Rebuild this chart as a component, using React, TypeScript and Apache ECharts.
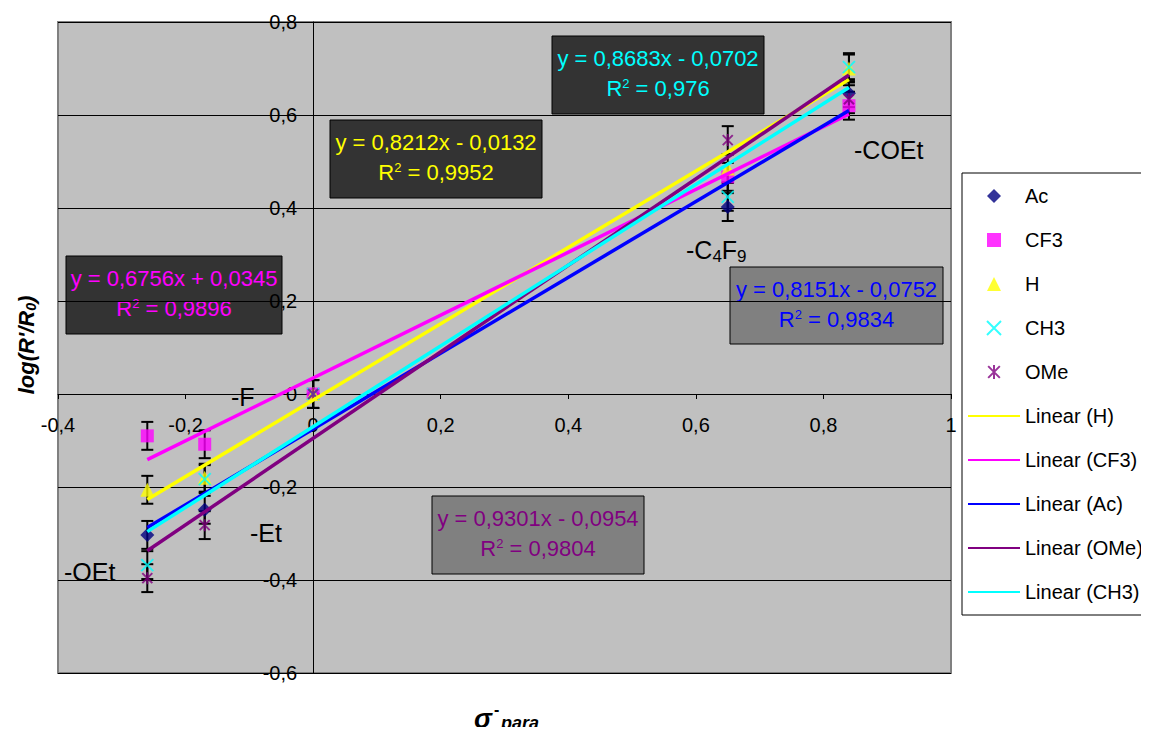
import React, { useEffect, useRef } from "react";
import * as echarts from "echarts";

const xValues = [-0.26, -0.17, 0, 0.65, 0.84];
const seriesNames = ["Ac", "CF3", "H", "CH3", "OMe"];
const acValues = [-0.303, -0.249, 0.0, 0.402, 0.647];
const cf3Values = [-0.09, -0.108, 0.0, 0.467, 0.62];
const hValues = [-0.206, -0.18, 0.0, 0.485, 0.7];
const ch3Values = [-0.368, -0.183, 0.0, 0.424, 0.703];
const omeValues = [-0.396, -0.282, 0.0, 0.546, 0.634];
const errorValues = [0.03, 0.03, 0.03, 0.03, 0.03];

const trendNames = ["Linear (H)", "Linear (CF3)", "Linear (Ac)", "Linear (OMe)", "Linear (CH3)"];
const trendSlopes = [0.8212, 0.6756, 0.8151, 0.9301, 0.8683];
const trendIntercepts = [-0.0132, 0.0345, -0.0752, -0.0954, -0.0702];
const trendR2 = ["0,9952", "0,9896", "0,9834", "0,9804", "0,976"];

const substituentLabels = ["-OEt", "-Et", "-F", "-COEt"];

const X_MIN = -0.4;
const X_MAX = 1;
const Y_MIN = -0.6;
const Y_MAX = 0.8;

const FONT = "'Liberation Sans', Arial, sans-serif";

const fmt = (v: number) => v.toFixed(4).replace(".", ",");
const tickFmt = (v: number) => {
  if (Math.abs(v) < 1e-9) return "0";
  if (Math.abs(v - Math.round(v)) < 1e-9) return String(Math.round(v));
  return v.toFixed(1).replace(".", ",");
};

export default function App() {
  const ref = useRef<HTMLDivElement>(null);
  useEffect(() => {
    if (!ref.current) return;
    const chart = echarts.init(ref.current, undefined, { renderer: "svg" });

    const W = 1149;
    const H = 735;
    const gLeft = 58;
    const gTop = 22;
    const gRight = W - 951;
    const gBottom = H - 673;
    const gW = W - gLeft - gRight;
    const gH = H - gTop - gBottom;
    const yAxisOffset = -((0 - X_MIN) / (X_MAX - X_MIN)) * gW;
    const xAxisOffset = -((0 - Y_MIN) / (Y_MAX - Y_MIN)) * gH;

    const pts = (ys: number[]) => xValues.map((x, i) => [x, ys[i]]);
    const xMin = Math.min(...xValues);
    const xMax = Math.max(...xValues);
    const trendLine = (k: number) => [
      [xMin, trendSlopes[k] * xMin + trendIntercepts[k]],
      [xMax, trendSlopes[k] * xMax + trendIntercepts[k]],
    ];

    const diamondPath = "path://M5,0L10,5L5,10L0,5Z";
    const squarePath = "path://M0,0L10,0L10,10L0,10Z";
    const trianglePath = "path://M5,0L10,10L0,10Z";
    const crossPath = "path://M0,0L10,10M10,0L0,10";
    const starPath = "path://M0,0L10,10M10,0L0,10M5,-1L5,11";

    const scatterDefs = [
      { name: "Ac", data: acValues, symbol: diamondPath, size: 14, color: "#000080" },
      { name: "CF3", data: cf3Values, symbol: squarePath, size: 13, color: "#FF00FF" },
      { name: "H", data: hValues, symbol: trianglePath, size: 14, color: "#FFFF00" },
      { name: "CH3", data: ch3Values, symbol: crossPath, size: 12, color: "#00FFFF", stroke: true },
      { name: "OMe", data: omeValues, symbol: starPath, size: 12, color: "#800080", stroke: true },
    ];
    const trendColors = ["#FFFF00", "#FF00FF", "#0000FF", "#800080", "#00FFFF"];

    const allY = [acValues, cf3Values, hValues, ch3Values, omeValues];
    const errData: number[][] = [];
    allY.forEach((ys) => ys.forEach((y, i) => errData.push([xValues[i], y, errorValues[i]])));

    const series: any[] = [
      {
        type: "custom",
        name: "errors",
        data: errData,
        encode: { x: 0, y: 1 },
        z: 2,
        renderItem: (params: any, api: any) => {
          const x = api.value(0);
          const y = api.value(1);
          const e = api.value(2);
          const t = api.coord([x, y + e]);
          const b = api.coord([x, y - e]);
          const hw = 6;
          const st = { stroke: "#000", lineWidth: 2 };
          return {
            type: "group",
            children: [
              { type: "line", shape: { x1: t[0], y1: t[1], x2: b[0], y2: b[1] }, style: st },
              { type: "line", shape: { x1: t[0] - hw, y1: t[1], x2: t[0] + hw, y2: t[1] }, style: st },
              { type: "line", shape: { x1: b[0] - hw, y1: b[1], x2: b[0] + hw, y2: b[1] }, style: st },
            ],
          };
        },
      },
    ];
    scatterDefs.forEach((d) => {
      series.push({
        type: "scatter",
        name: d.name,
        data: pts(d.data),
        symbol: d.symbol,
        symbolSize: d.size,
        symbolKeepAspect: true,
        z: 3,
        itemStyle: d.stroke
          ? { color: d.color, borderColor: d.color, borderWidth: 2 }
          : { color: d.color, borderWidth: 0 },
      });
    });
    trendNames.forEach((n, k) => {
      series.push({
        type: "line",
        name: n,
        data: trendLine(k),
        symbol: "none",
        showSymbol: false,
        z: 4,
        lineStyle: { color: trendColors[k], width: 3.5 },
        itemStyle: { color: trendColors[k] },
      });
    });

    // Annotation boxes (index into trend arrays: H, CF3, Ac, OMe, CH3)
    const boxes = [
      { k: 4, x: 552, y: 36, w: 212, h: 78, fill: "#333333" },
      { k: 0, x: 330, y: 120, w: 212, h: 78, fill: "#333333" },
      { k: 1, x: 66, y: 256, w: 216, h: 78, fill: "#333333" },
      { k: 2, x: 730, y: 267, w: 213, h: 77, fill: "#808080" },
      { k: 3, x: 432, y: 496, w: 212, h: 78, fill: "#808080" },
    ];
    const boxColors = ["#FFFF00", "#FF00FF", "#0000FF", "#800080", "#00FFFF"];
    const graphics: any[] = boxes.map((b) => {
      const s = trendSlopes[b.k];
      const c = trendIntercepts[b.k];
      const eq = `y = ${fmt(s)}x ${c < 0 ? "-" : "+"} ${fmt(Math.abs(c))}`;
      return {
        type: "group",
        x: b.x,
        y: b.y,
        z: 100,
        children: [
          {
            type: "rect",
            shape: { x: 0, y: 0, width: b.w, height: b.h },
            style: { fill: b.fill, stroke: "#000", lineWidth: 1 },
          },
          {
            type: "text",
            x: b.w / 2,
            y: 22,
            style: {
              text: eq,
              fill: boxColors[b.k],
              font: `22px ${FONT}`,
              align: "center",
              verticalAlign: "middle",
            },
          },
          {
            type: "text",
            x: b.w / 2,
            y: 52,
            style: {
              text: `R{sup|2} = ${trendR2[b.k]}`,
              fill: boxColors[b.k],
              font: `22px ${FONT}`,
              align: "center",
              verticalAlign: "middle",
              rich: {
                sup: { fontSize: 13, fill: boxColors[b.k], verticalAlign: "top", padding: [0, 0, 9, 0], fontFamily: FONT },
              },
            },
          },
        ],
      };
    });

    const subPos = [
      { t: substituentLabels[0], x: 64, y: 572 },
      { t: substituentLabels[1], x: 250, y: 533 },
      { t: substituentLabels[2], x: 231, y: 397 },
      { t: substituentLabels[3], x: 854, y: 150 },
    ];
    subPos.forEach((p) =>
      graphics.push({
        type: "text",
        x: p.x,
        y: p.y,
        z: 100,
        style: { text: p.t, fill: "#000", font: `25px ${FONT}`, verticalAlign: "middle" },
      })
    );
    graphics.push({
      type: "text",
      x: 686,
      y: 250,
      z: 100,
      style: {
        text: "-C{s|4}F{s|9}",
        fill: "#000",
        font: `25px ${FONT}`,
        verticalAlign: "middle",
        rich: { s: { fontSize: 17, fontFamily: FONT, padding: [12, 0, 0, 0], fill: "#000" } },
      },
    });

    // axis titles
    graphics.push({
      type: "text",
      x: 26,
      y: 345,
      rotation: Math.PI / 2,
      z: 100,
      style: {
        text: "log(R'/R{s|0})",
        fill: "#000",
        font: `italic bold 22px ${FONT}`,
        align: "center",
        verticalAlign: "middle",
        rich: { s: { fontSize: 14, fontStyle: "italic", fontWeight: "bold", fontFamily: FONT, padding: [10, 0, 0, 0], fill: "#000" } },
      },
    });
    graphics.push({
      type: "text",
      x: 474,
      y: 719,
      z: 100,
      style: { text: "σ", fill: "#000", font: `italic bold 27px ${FONT}`, verticalAlign: "middle" },
    });
    graphics.push({
      type: "text",
      x: 494,
      y: 709,
      z: 100,
      style: { text: "-", fill: "#000", font: `bold 16px ${FONT}`, verticalAlign: "middle" },
    });
    graphics.push({
      type: "text",
      x: 501,
      y: 723,
      z: 100,
      style: { text: "para", fill: "#000", font: `italic bold 18px ${FONT}`, verticalAlign: "middle" },
    });

    const legendData: any[] = [
      ...seriesNames.map((n) => ({ name: n })),
      ...trendNames.map((n) => ({ name: n, itemStyle: { opacity: 0 } })),
    ];

    chart.setOption({
      animation: false,
      backgroundColor: "#FFFFFF",
      textStyle: { fontFamily: FONT },
      grid: {
        left: gLeft,
        top: gTop,
        right: gRight,
        bottom: gBottom,
        show: true,
        backgroundColor: "#C0C0C0",
        borderColor: "#808080",
        borderWidth: 2,
      },
      legend: {
        orient: "vertical",
        left: 962,
        top: 173,
        padding: [13, 3, 13, 5],
        itemWidth: 52,
        itemHeight: 14,
        itemGap: 24,
        symbolKeepAspect: true,
        backgroundColor: "#FFFFFF",
        borderColor: "#000000",
        borderWidth: 1,
        borderRadius: 0,
        textStyle: { fontSize: 20, color: "#000", fontFamily: FONT },
        data: legendData,
      },
      xAxis: {
        type: "value",
        min: X_MIN,
        max: X_MAX,
        interval: 0.2,
        position: "bottom",
        offset: xAxisOffset,
        axisLine: { onZero: false, lineStyle: { color: "#000", width: 1 } },
        axisTick: { show: true, inside: false, length: 5, lineStyle: { color: "#000" } },
        axisLabel: { formatter: tickFmt, fontSize: 20, color: "#000", fontFamily: FONT, margin: 21 },
        splitLine: { show: false },
      },
      yAxis: {
        type: "value",
        min: Y_MIN,
        max: Y_MAX,
        interval: 0.2,
        position: "left",
        offset: yAxisOffset,
        axisLine: { onZero: false, lineStyle: { color: "#000", width: 1 } },
        axisTick: { show: true, inside: false, length: 5, lineStyle: { color: "#000" } },
        axisLabel: { formatter: tickFmt, fontSize: 20, color: "#000", fontFamily: FONT, margin: 16 },
        splitLine: { show: true, lineStyle: { color: "#000", width: 1 } },
      },
      series,
      graphic: graphics,
    });
    return () => chart.dispose();
  }, []);
  return <div ref={ref} style={{ width: 1149, height: 735, margin: -8 }} />;
}
